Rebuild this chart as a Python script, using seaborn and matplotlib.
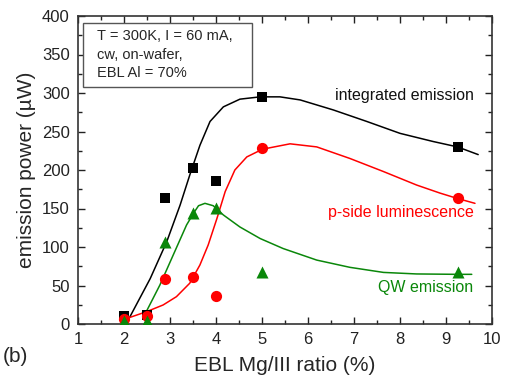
import matplotlib
matplotlib.use("Agg")
import matplotlib.pyplot as plt
import seaborn as sns
from matplotlib.ticker import MultipleLocator
from matplotlib.patches import Rectangle

sns.set_theme(style="ticks")
plt.rcParams['font.family'] = ['Liberation Sans', 'DejaVu Sans']

# measured data
x_meas = [2.0, 2.5, 2.9, 3.5, 4.0, 5.0, 9.25]
integrated = [10, 12, 164, 203, 186, 295, 230]
pside = [7, 10, 59, 61, 36, 228, 164]
qw = [4, 4, 106, 144, 151, 68, 68]

# fitted curves
int_fit_x = [2.13, 2.57, 2.93, 3.22, 3.43, 3.65, 3.87, 4.16, 4.52, 4.96, 5.39, 5.83, 6.55, 7.28, 8.0, 8.72, 9.25, 9.70]
int_fit_y = [9.5, 59, 107, 154.5, 193.5, 232, 263, 282, 292, 295, 295, 291, 278, 263, 247.6, 237, 230, 220]
ps_fit_x = [2.1, 2.49, 2.85, 3.14, 3.43, 3.65, 3.83, 4.02, 4.20, 4.41, 4.67, 5.01, 5.61, 6.19, 6.91, 7.64, 8.36, 8.87, 9.25, 9.63]
ps_fit_y = [8, 16, 24.7, 35.5, 53, 76.6, 102.6, 137, 172, 200, 217, 227, 234, 230, 215, 198, 180.5, 170, 163, 156.7]
qw_fit_x = [2.45, 2.78, 3.07, 3.36, 3.51, 3.62, 3.76, 3.94, 4.16, 4.52, 4.96, 5.46, 6.19, 6.91, 7.64, 8.36, 9.25, 9.56]
qw_fit_y = [12, 50.6, 89.6, 128.6, 143.7, 153.6, 156.7, 153.6, 141.6, 126, 111, 98, 83, 73.6, 67, 65, 64.5, 64.5]

BLACK = "#000000"
RED = "#ff0000"
GREEN = "#0a870a"

fig = plt.figure(figsize=(5.05, 3.84), dpi=100)
ax = fig.add_axes([78/505, 1-324/384, (492-78)/505, (324-16)/384])

sns.lineplot(x=int_fit_x, y=int_fit_y, ax=ax, color=BLACK, lw=1.1, sort=False, estimator=None)
sns.lineplot(x=ps_fit_x, y=ps_fit_y, ax=ax, color=RED, lw=1.1, sort=False, estimator=None)
sns.lineplot(x=qw_fit_x, y=qw_fit_y, ax=ax, color=GREEN, lw=1.1, sort=False, estimator=None)

sns.scatterplot(x=x_meas, y=integrated, ax=ax, color=BLACK, marker="s", s=60, edgecolor=BLACK, linewidth=0, zorder=5)
sns.scatterplot(x=x_meas, y=pside, ax=ax, color=RED, marker="o", s=65, edgecolor=RED, linewidth=0, zorder=5)
sns.scatterplot(x=x_meas, y=qw, ax=ax, color=GREEN, marker="^", s=75, edgecolor=GREEN, linewidth=0, zorder=6)

ax.set_xlim(1, 10)
ax.set_ylim(0, 400)
ax.xaxis.set_major_locator(MultipleLocator(1))
ax.xaxis.set_minor_locator(MultipleLocator(0.5))
ax.yaxis.set_major_locator(MultipleLocator(50))
ax.yaxis.set_minor_locator(MultipleLocator(25))
ax.tick_params(which="both", direction="in", top=True, right=True, labelsize=12, colors="#222222", pad=6)
ax.tick_params(which="major", length=5, width=1)
ax.tick_params(which="minor", length=3, width=1)
for sp in ax.spines.values():
    sp.set_linewidth(1.2)
    sp.set_color("#333333")

ax.set_xlabel("EBL Mg/III ratio (%)", fontsize=15, labelpad=6)
ax.set_ylabel("emission power (µW)", fontsize=15, labelpad=4)

ax.add_patch(Rectangle(((83-78)/414, (324-87)/308), 169/414, 64/308, transform=ax.transAxes,
                       fc="white", ec="#555555", lw=1, zorder=7))
ax.text((97-78)/414, (324-29.5)/308, "T = 300K, I = 60 mA,\ncw, on-wafer,\nEBL Al = 70%", transform=ax.transAxes,
        fontsize=10.5, va="top", ha="left", linespacing=1.38, zorder=8)

ax.text(9.6, 297, "integrated emission", ha="right", va="center", fontsize=11.5, color="#111111")
ax.text(9.6, 145, "p-side luminescence", ha="right", va="center", fontsize=11.5, color=RED)
ax.text(9.6, 48, "QW emission", ha="right", va="center", fontsize=11.5, color=GREEN)

fig.text(3/505, 1-357/384, "(b)", fontsize=15, va="center", ha="left")

fig.savefig("out.png", dpi=100)
